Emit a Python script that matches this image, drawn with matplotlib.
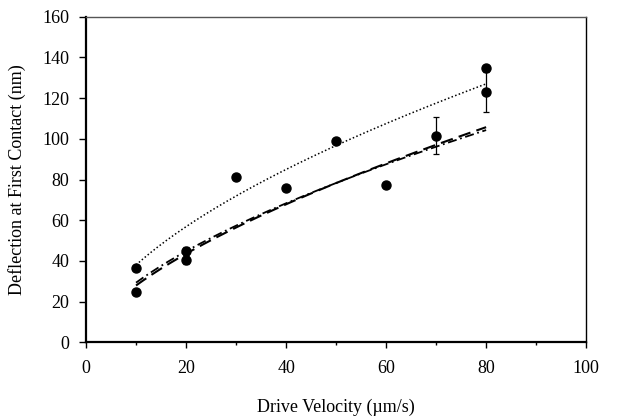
import matplotlib
matplotlib.use("Agg")
import matplotlib.pyplot as plt
from matplotlib.ticker import MultipleLocator
import numpy as np

plt.rcParams['font.family'] = ['Liberation Serif', 'DejaVu Serif']

# measured points (drive velocity um/s, deflection nm)
velocity = [10, 10, 20, 20, 30, 40, 50, 60, 70, 80, 80]
deflection = [36.5, 24.5, 45, 40.5, 81, 76, 99, 77.5, 101.5, 135, 123]
deflection_err = [0, 0, 2, 2, 0, 0, 0, 0, 9, 0, 10]

# power-law trendlines y = a * x^b
fit_upper = (10.0, 0.58)
fit_lower_a = (6.4, 0.64)
fit_lower_b = (7.2, 0.61)
fit_range = (10, 80)

fig = plt.figure(figsize=(6.42, 4.17), dpi=100)
ax = fig.add_axes([0.134, 0.179, 0.779, 0.781])

xs = np.linspace(fit_range[0], fit_range[1], 200)
a, b = fit_upper
ax.plot(xs, a * xs ** b, color='black', linestyle=(0, (1, 1.5)), linewidth=1.1)
a, b = fit_lower_a
ax.plot(xs, a * xs ** b, color='black', linestyle=(0, (6, 3)), linewidth=1.5)
a, b = fit_lower_b
ax.plot(xs, a * xs ** b, color='black', linestyle=(0, (5, 2, 1, 2)), linewidth=1.3)

err = [e if e > 0 else np.nan for e in deflection_err]
ax.errorbar(velocity, deflection, yerr=err, fmt='o', color='black',
            markersize=6.5, ecolor='black', elinewidth=0.9, capsize=2.5,
            capthick=0.9, zorder=3)

ax.set_xlim(0, 100)
ax.set_ylim(0, 160)
ax.xaxis.set_major_locator(MultipleLocator(20))
ax.xaxis.set_minor_locator(MultipleLocator(10))
ax.yaxis.set_major_locator(MultipleLocator(20))
ax.tick_params(which='both', direction='out', width=1.0, labelsize=13)
ax.tick_params(axis='x', which='major', length=4, pad=9)
ax.tick_params(axis='x', which='minor', length=2.5)
ax.tick_params(axis='y', length=5, pad=7)
ax.spines['left'].set_linewidth(1.6)
ax.spines['bottom'].set_linewidth(1.6)
ax.spines['right'].set_linewidth(1.0)
ax.spines['top'].set_linewidth(1.0)
ax.spines['top'].set_color('#555555')

ax.set_xlabel('Drive Velocity (\u00b5m/s)', fontsize=13, labelpad=15)
ax.set_ylabel('Deflection at First Contact (nm)', fontsize=13, labelpad=12)

fig.savefig('out.png', dpi=100)
